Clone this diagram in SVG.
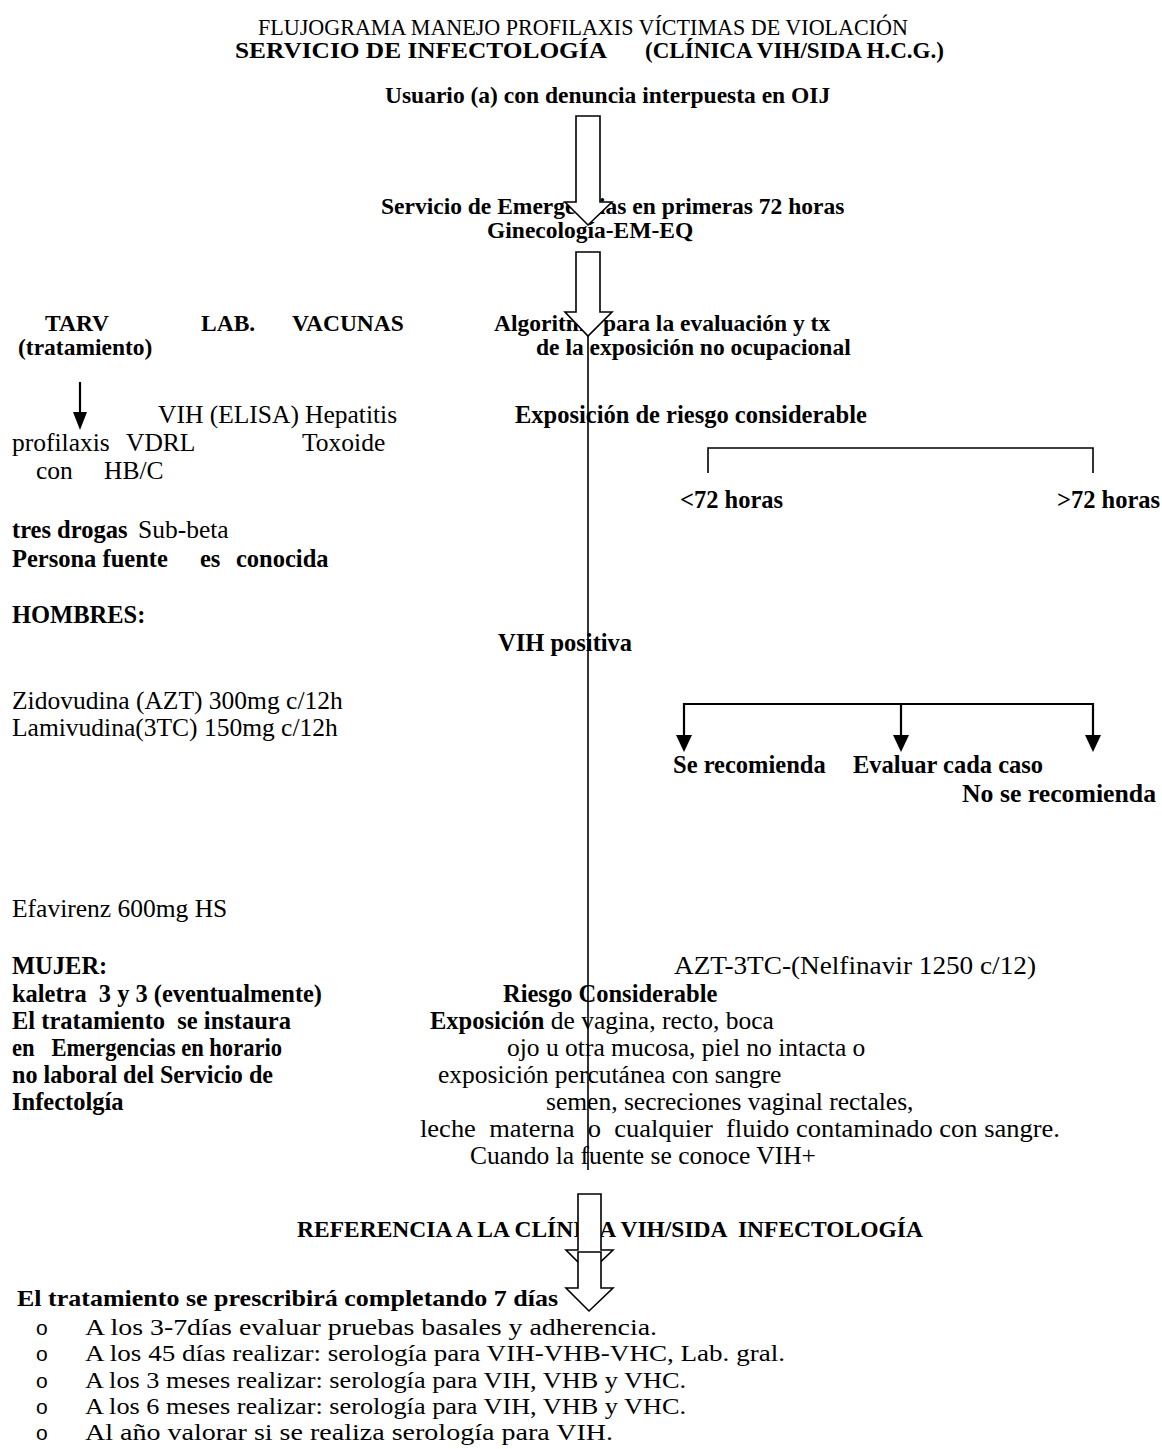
<svg xmlns="http://www.w3.org/2000/svg" width="1162" height="1449" viewBox="0 0 1162 1449">
<style>
text{font-family:"Liberation Serif","Times New Roman",serif;fill:#000}
.ti{font-size:23px}
.tb{font-size:23px;font-weight:bold}
.fb{font-size:23.5px;font-weight:bold}
.br{font-size:25.5px}
.bb{font-size:24.5px;font-weight:bold}
.bl{font-size:24px}
.bu{font-family:"Liberation Sans",Arial,sans-serif;font-size:21px}
.blk{fill:#fff;stroke:#000;stroke-width:1.6;stroke-linejoin:miter}
.ln{fill:none;stroke:#000;stroke-width:1.6}
.ln2{fill:none;stroke:#000;stroke-width:2.2}
.hd{fill:#000;stroke:none}
</style>
<rect width="1162" height="1449" fill="#fff"/>
<g id="titulo">
<text class="ti" x="258" y="35" textLength="650" lengthAdjust="spacingAndGlyphs">FLUJOGRAMA MANEJO PROFILAXIS VÍCTIMAS DE VIOLACIÓN</text>
<text class="tb" x="235" y="58" textLength="372" lengthAdjust="spacingAndGlyphs">SERVICIO DE INFECTOLOGÍA</text>
<text class="tb" x="645" y="58" textLength="299" lengthAdjust="spacingAndGlyphs">(CLÍNICA VIH/SIDA H.C.G.)</text>
</g>
<g id="n-usuario"><text class="fb" x="385" y="103">Usuario (a) con denuncia interpuesta en OIJ</text></g>
<g id="n-emergencias">
<text class="fb" x="381" y="214">Servicio de Emergencias en primeras 72 horas</text>
<text class="fb" x="487" y="238">Ginecología-EM-EQ</text>
</g>
<g id="n-tarv">
<text class="fb" x="45" y="331">TARV</text>
<text class="fb" x="18" y="355">(tratamiento)</text>
</g>
<g id="n-lab"><text class="fb" x="201" y="331">LAB.</text></g>
<g id="n-vacunas"><text class="fb" x="292" y="331">VACUNAS</text></g>
<g id="n-algoritmo">
<text class="fb" x="494" y="331">Algoritmo para la evaluación y tx</text>
<text class="fb" x="536" y="355">de la exposición no ocupacional</text>
</g>
<g id="n-lab-lista">
<text class="br" x="158" y="423">VIH (ELISA)</text>
<text class="br" x="126" y="451">VDRL</text>
<text class="br" x="104" y="479">HB/C</text>
<text class="br" x="138" y="538">Sub-beta</text>
</g>
<g id="n-vacunas-lista">
<text class="br" x="305" y="423">Hepatitis</text>
<text class="br" x="302" y="451">Toxoide</text>
</g>
<g id="n-tarv-detalle">
<text class="br" x="12" y="451">profilaxis</text>
<text class="br" x="36" y="479">con</text>
<text class="bb" x="12" y="538">tres drogas</text>
<text class="bb" x="12" y="567">Persona fuente</text>
<text class="bb" x="200" y="567">es</text>
<text class="bb" x="236" y="567">conocida</text>
<text class="bb" x="12" y="623">HOMBRES:</text>
<text class="br" x="12" y="709">Zidovudina (AZT) 300mg c/12h</text>
<text class="br" x="12" y="736">Lamivudina(3TC) 150mg c/12h</text>
<text class="br" x="12" y="917">Efavirenz 600mg HS</text>
<text class="bb" x="12" y="974">MUJER:</text>
<text class="bb" x="12" y="1002" xml:space="preserve" textLength="310" lengthAdjust="spacingAndGlyphs">kaletra  3 y 3 (eventualmente)</text>
<text class="bb" x="12" y="1029" xml:space="preserve" textLength="279" lengthAdjust="spacingAndGlyphs">El tratamiento  se instaura</text>
<text class="bb" x="12" y="1056" xml:space="preserve" textLength="270" lengthAdjust="spacingAndGlyphs">en   Emergencias en horario</text>
<text class="bb" x="12" y="1083" textLength="261" lengthAdjust="spacingAndGlyphs">no laboral del Servicio de</text>
<text class="bb" x="12" y="1110">Infectolgía</text>
</g>
<g id="n-exposicion"><text class="bb" x="515" y="423">Exposición de riesgo considerable</text></g>
<g id="n-menos72"><text class="bb" x="680" y="508">&lt;72 horas</text></g>
<g id="n-mas72"><text class="bb" x="1057" y="508">&gt;72 horas</text></g>
<g id="n-vih-positiva"><text class="bb" x="498" y="651">VIH positiva</text></g>
<g id="n-se-recomienda"><text class="bb" x="673" y="773">Se recomienda</text></g>
<g id="n-evaluar"><text class="bb" x="853" y="773">Evaluar cada caso</text></g>
<g id="n-no-recomienda"><text class="bb" x="962" y="802" textLength="194" lengthAdjust="spacingAndGlyphs">No se recomienda</text></g>
<g id="n-azt"><text class="br" x="674" y="974" textLength="362" lengthAdjust="spacingAndGlyphs">AZT-3TC-(Nelfinavir 1250 c/12)</text></g>
<g id="n-riesgo">
<text class="bb" x="503" y="1002">Riesgo Considerable</text>
<text class="br" x="430" y="1029"><tspan style="font-weight:bold;font-size:24.5px">Exposición</tspan> de vagina, recto, boca</text>
<text class="br" x="507" y="1056">ojo u otra mucosa, piel no intacta o</text>
<text class="br" x="438" y="1083">exposición percutánea con sangre</text>
<text class="br" x="546" y="1110">semen, secreciones vaginal rectales,</text>
<text class="br" x="420" y="1137" xml:space="preserve" textLength="640" lengthAdjust="spacingAndGlyphs">leche  materna  o  cualquier  fluido contaminado con sangre.</text>
<text class="br" x="470" y="1164">Cuando la fuente se conoce VIH+</text>
</g>
<g id="n-referencia"><text class="fb" x="297" y="1237" xml:space="preserve">REFERENCIA A LA CLÍNICA VIH/SIDA  INFECTOLOGÍA</text></g>
<g id="n-seguimiento">
<text class="fb" x="17" y="1306" textLength="541" lengthAdjust="spacingAndGlyphs">El tratamiento se prescribirá completando 7 días</text>
<text class="bu" x="36" y="1335">o</text>
<text class="bl" x="85" y="1335" textLength="572" lengthAdjust="spacingAndGlyphs">A los 3-7días evaluar pruebas basales y adherencia.</text>
<text class="bu" x="36" y="1361">o</text>
<text class="bl" x="85" y="1361" textLength="700" lengthAdjust="spacingAndGlyphs">A los 45 días realizar: serología para VIH-VHB-VHC, Lab. gral.</text>
<text class="bu" x="36" y="1388">o</text>
<text class="bl" x="85" y="1388" textLength="601" lengthAdjust="spacingAndGlyphs">A los 3 meses realizar: serología para VIH, VHB y VHC.</text>
<text class="bu" x="36" y="1414">o</text>
<text class="bl" x="85" y="1414" textLength="601" lengthAdjust="spacingAndGlyphs">A los 6 meses realizar: serología para VIH, VHB y VHC.</text>
<text class="bu" x="36" y="1440">o</text>
<text class="bl" x="85" y="1440" textLength="528" lengthAdjust="spacingAndGlyphs">Al año valorar si se realiza serología para VIH.</text>
</g>
<g id="conectores">
<path class="blk" d="M576,116 H600 V202 H612 L588,225 L565,202 H576 Z"/>
<path class="blk" d="M576,252 H600 V312 H612 L588,336 L565,312 H576 Z"/>
<line class="ln" x1="588" y1="336" x2="588" y2="1170"/>
<path class="blk" d="M578,1194 H601 V1250 H613 L589,1273 L566,1250 H578 Z"/>
<path class="blk" d="M578,1252 H601 V1288 H613 L589,1311 L566,1288 H578 Z"/>
<line class="ln2" x1="80" y1="382" x2="80" y2="414"/>
<path class="hd" d="M73,412 H87 L80,430 Z"/>
<path class="ln" d="M708,473 V448 H1093 V473"/>
<path class="ln2" d="M684,738 V704 H1093 V738 M901,704 V738"/>
<path class="hd" d="M676,735 H692 L684,752 Z"/>
<path class="hd" d="M893,735 H909 L901,752 Z"/>
<path class="hd" d="M1085,735 H1101 L1093,752 Z"/>
</g>
</svg>
